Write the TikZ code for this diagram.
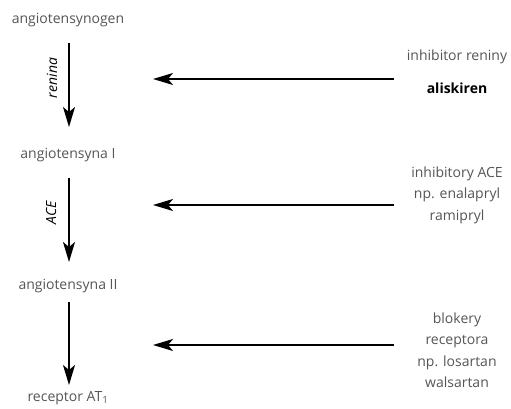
\documentclass[tikz,border=0pt]{standalone}
\usepackage{fontspec}
\setmainfont{Open Sans}
\usetikzlibrary{arrows.meta}
\definecolor{txt}{HTML}{555555}
\begin{document}
\begin{tikzpicture}[x=1pt,y=-1pt,
  lbl/.style={text=txt,font=\fontsize{14}{21.5}\selectfont,inner sep=0pt,align=center},
  enz/.style={text=black,font=\fontsize{14}{15}\selectfont\itshape,rotate=90,inner sep=0pt},
  arr/.style={line width=1.6pt,-{Stealth[length=20pt,width=12pt,inset=5pt]}}]
\useasboundingbox (0,0) rectangle (511,409);
\node[lbl] (agn) at (68,20) {angiotensynogen};
\node[lbl] (a1) at (68,155) {angiotensyna I};
\node[lbl] (a2) at (68,286) {angiotensyna II};
\node[lbl] (rec) at (68,398) {receptor AT\textsubscript{1}};
\coordinate (s1) at (69,43); \coordinate (e1) at (69,127);
\coordinate (s2) at (69,178); \coordinate (e2) at (69,262);
\coordinate (s3) at (69,302); \coordinate (e3) at (69,385);
\draw[arr] (s1) -- (e1);
\draw[arr] (s2) -- (e2);
\draw[arr] (s3) -- (e3);
\node[enz] (ren) at (52,78) {renina};
\node[enz] (ace) at (51,213) {ACE};
\node[lbl] (inh1) at (457,57) {inhibitor reniny};
\node[lbl,text=black,font=\fontsize{14}{15}\selectfont\bfseries] (ali) at (457,88) {aliskiren};
\node[lbl] (inh2) at (457,195) {inhibitory ACE\\np. enalapryl\\ramipryl};
\node[lbl] (inh3) at (457,350) {blokery\\receptora\\np. losartan\\walsartan};
\coordinate (h1s) at (394,79); \coordinate (h1e) at (153,79);
\coordinate (h2s) at (394,205); \coordinate (h2e) at (153,205);
\coordinate (h3s) at (394,345); \coordinate (h3e) at (153,345);
\draw[arr] (h1s) -- (h1e);
\draw[arr] (h2s) -- (h2e);
\draw[arr] (h3s) -- (h3e);
\end{tikzpicture}
\end{document}
